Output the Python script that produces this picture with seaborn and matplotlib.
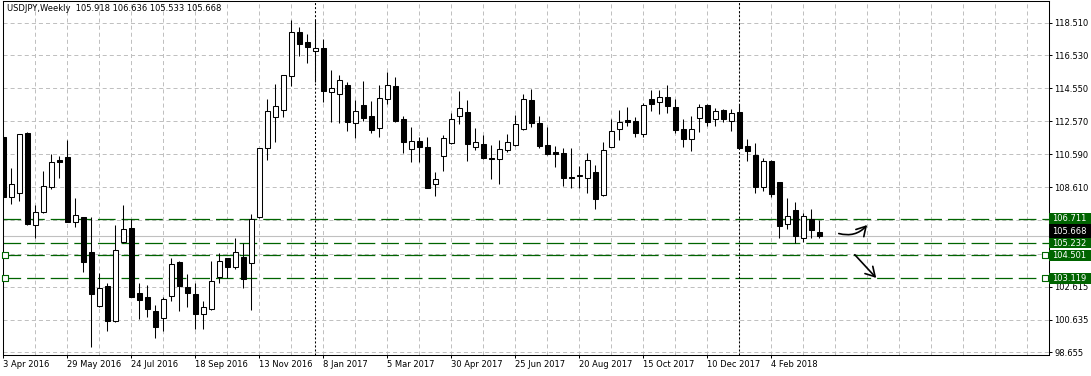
import matplotlib
matplotlib.use("Agg")
import matplotlib.pyplot as plt
import matplotlib.transforms as mtransforms
from matplotlib.patches import Rectangle
from matplotlib.ticker import MultipleLocator
import numpy as np
import pandas as pd
import seaborn as sns

sns.set_theme(style="white")
plt.rcParams['font.family'] = ['DejaVu Sans']
plt.rcParams['lines.scale_dashes'] = False

# ---------------- data (weekly USDJPY candles) ----------------
opens = [111.60, 107.99, 108.23, 111.86, 106.30, 107.09, 108.59, 110.24, 110.42, 106.52,
         106.79, 104.70, 101.47, 102.65, 100.57, 105.32, 106.12, 102.21, 101.97, 101.13,
         100.75, 102.07, 104.10, 102.59, 102.17, 100.95, 101.25, 103.21, 104.32, 103.82,
         104.38, 104.02, 106.82, 110.94, 112.80, 113.26, 115.31, 117.92, 117.32, 116.77,
         116.95, 114.31, 114.23, 114.73, 112.44, 113.54, 112.88, 112.14, 113.89, 114.67,
         112.68, 110.88, 111.38, 111.02, 108.77, 110.50, 111.24, 112.90, 113.10, 111.00,
         111.18, 110.36, 110.28, 110.86, 111.12, 112.08, 113.83, 112.46, 111.14, 110.72,
         110.64, 109.19, 109.29, 109.13, 109.49, 108.13, 111.04, 112.12, 112.64, 112.56,
         111.78, 113.91, 113.71, 114.01, 113.45, 112.08, 111.48, 112.78, 113.53, 112.68,
         113.23, 112.56, 113.10, 111.08, 110.54, 108.63, 110.18, 108.89, 106.36, 107.23,
         105.52, 106.69, 105.918]
highs = [111.78, 109.76, 111.80, 111.90, 107.53, 109.57, 110.60, 110.48, 111.44, 107.95,
         106.83, 106.79, 103.46, 102.81, 106.33, 107.53, 106.69, 102.81, 102.69, 101.49,
         101.97, 104.32, 104.16, 103.36, 102.81, 101.77, 104.16, 104.62, 104.36, 105.52,
         105.22, 106.97, 110.95, 113.90, 114.81, 115.35, 118.66, 118.22, 117.80, 118.66,
         117.52, 115.65, 115.35, 114.95, 113.85, 114.99, 113.79, 114.75, 115.51, 115.23,
         112.88, 112.20, 111.62, 111.62, 109.49, 111.74, 113.08, 114.39, 113.85, 112.14,
         111.74, 111.14, 111.44, 111.80, 112.94, 114.21, 114.51, 112.88, 112.22, 111.08,
         110.94, 110.94, 109.87, 110.64, 109.93, 111.34, 112.68, 113.24, 113.41, 112.80,
         113.65, 114.45, 114.45, 114.75, 113.91, 112.68, 112.88, 113.61, 113.61, 113.34,
         113.29, 113.29, 113.61, 111.48, 111.28, 110.34, 110.24, 108.93, 107.97, 107.69,
         107.05, 107.28, 106.636]
lows = [107.69, 107.61, 107.79, 106.33, 105.56, 107.07, 108.47, 109.13, 106.49, 106.22,
        103.52, 98.99, 101.41, 99.97, 100.51, 105.22, 101.97, 100.67, 100.79, 99.54,
        99.97, 101.77, 101.17, 101.41, 100.09, 100.09, 101.19, 102.81, 103.11, 103.68,
        102.55, 101.19, 106.72, 110.23, 111.34, 112.84, 114.71, 116.51, 116.05, 114.95,
        113.75, 112.54, 112.48, 112.00, 111.58, 112.58, 111.84, 111.64, 113.59, 112.54,
        110.64, 110.09, 110.13, 108.53, 108.09, 109.59, 111.20, 112.38, 110.20, 110.84,
        110.30, 109.09, 108.79, 110.74, 111.10, 112.06, 112.24, 110.98, 110.54, 109.83,
        108.67, 108.57, 108.57, 108.27, 107.31, 108.07, 111.00, 111.46, 112.30, 111.64,
        111.64, 113.20, 112.98, 113.08, 111.84, 111.04, 110.80, 111.94, 112.28, 112.30,
        112.50, 112.00, 110.94, 110.20, 108.27, 108.39, 108.03, 105.56, 106.08, 105.22,
        105.32, 105.57, 105.533]
closes = [108.03, 108.77, 111.78, 106.37, 107.09, 108.65, 110.10, 110.14, 106.52, 106.93,
          104.12, 102.19, 102.55, 100.57, 104.80, 106.06, 101.99, 101.83, 101.29, 100.20,
          101.85, 103.96, 102.67, 102.25, 100.99, 101.37, 102.95, 104.18, 103.82, 104.72,
          103.09, 106.68, 110.94, 113.16, 113.48, 115.33, 117.92, 117.24, 117.02, 116.95,
          114.41, 114.55, 115.03, 112.54, 113.16, 112.78, 112.06, 113.95, 114.73, 112.60,
          111.30, 111.40, 111.04, 108.57, 109.07, 111.54, 112.68, 113.35, 111.22, 111.30,
          110.36, 110.32, 110.88, 111.30, 112.38, 113.89, 112.48, 111.10, 110.62, 110.62,
          109.17, 109.15, 109.33, 110.24, 107.87, 110.84, 111.98, 112.52, 112.54, 111.84,
          113.55, 113.61, 114.01, 113.51, 112.04, 111.48, 112.12, 113.45, 112.54, 113.20,
          112.68, 113.04, 110.98, 110.80, 108.63, 110.18, 108.17, 106.28, 106.87, 105.68,
          106.85, 106.00, 105.668]

x_tick_weeks = [0, 8, 16, 24, 32, 40, 48, 56, 64, 72, 80, 88, 96]
x_tick_labels = ["3 Apr 2016", "29 May 2016", "24 Jul 2016", "18 Sep 2016", "13 Nov 2016",
                 "8 Jan 2017", "5 Mar 2017", "30 Apr 2017", "25 Jun 2017", "20 Aug 2017",
                 "15 Oct 2017", "10 Dec 2017", "4 Feb 2018"]
# grid rows; the two labels hidden behind the level boxes are left blank
y_tick_values = [118.510, 116.530, 114.550, 112.570, 110.590, 108.610, 106.600, 104.610,
                 102.615, 100.635, 98.655]
y_tick_labels = ["118.510", "116.530", "114.550", "112.570", "110.590", "108.610", "",
                 "", "102.615", "100.635", "98.655"]
level_prices = [106.711, 105.232, 104.501, 103.119]
marked_levels = [104.501, 103.119]
current_price = 105.668
separator_weeks = [39, 92]
title_text = "USDJPY,Weekly  105.918 106.636 105.533 105.668"

# ---------------- build frame ----------------
df = pd.DataFrame({"week": np.arange(len(opens)), "open": opens, "high": highs,
                   "low": lows, "close": closes})
df["bull"] = df["close"] >= df["open"]
df["body_low"] = df[["open", "close"]].min(axis=1)
df["body_h"] = (df["close"] - df["open"]).abs()

GREEN = "#006400"
GRID = "#c0c0c0"

W, H = 1091, 376
fig = plt.figure(figsize=(W / 100, H / 100), dpi=100)
fig.patch.set_facecolor("white")
ax = fig.add_axes([2.5 / W, 21 / H, 1046 / W, 354 / H])
ax.set_facecolor("white")

ax.set_xlim(-0.1, 130.65)
ax.set_ylim(98.504, 119.804)

# grid
ax.set_yticks(y_tick_values)
ax.set_yticklabels(y_tick_labels)
ax.set_xticks(x_tick_weeks)
ax.set_xticklabels(x_tick_labels)
for lab in ax.get_xticklabels():
    lab.set_ha("left")
ax.xaxis.set_minor_locator(MultipleLocator(4))
grid_style = dict(color=GRID, linestyle=(0, (2.9, 2.2)), linewidth=0.72)
ax.grid(True, which="major", axis="both", **grid_style)
ax.grid(True, which="minor", axis="x", **grid_style)
ax.set_axisbelow(True)

ax.yaxis.tick_right()
ax.tick_params(axis="y", which="major", direction="out", length=2.2, width=0.72,
               pad=1.8, labelsize=6, colors="black", right=True, left=False)
ax.tick_params(axis="x", which="major", direction="out", length=2.2, width=0.72,
               pad=1.6, labelsize=6, colors="black", bottom=True)
ax.tick_params(axis="x", which="minor", length=0)
for sp in ax.spines.values():
    sp.set_color("black")
    sp.set_linewidth(0.75)
    sp.set_visible(True)

# current price line
ax.axhline(current_price, color=GRID, linewidth=0.8, zorder=1)

# level lines
for p in level_prices:
    ax.axhline(p, color=GREEN, linewidth=0.9, linestyle=(0, (12.7, 4.3)), zorder=1.5)

# period separators
for w in separator_weeks:
    ax.axvline(w, color="black", linewidth=0.75, linestyle=(0, (1.45, 1.45)), zorder=1.6)

# candles: wicks + bodies
ax.vlines(df["week"], df["low"], df["high"], color="black", linewidth=0.75, zorder=2)
fill = np.where(df["bull"], "white", "black")
ax.bar(df["week"], np.maximum(df["body_h"], 0.005), bottom=df["body_low"], width=0.56,
       color=fill, edgecolor="black", linewidth=0.75, zorder=3)

# hollow square handles on the two lower levels
x0, x1 = ax.get_xlim()
lv = pd.DataFrame({"x": [x0 + 0.3] * len(marked_levels) + [x1 - 0.45] * len(marked_levels),
                   "y": marked_levels * 2})
sns.scatterplot(data=lv, x="x", y="y", ax=ax, marker="s", s=14, facecolor="white",
                edgecolor=GREEN, linewidth=0.8, zorder=6, clip_on=False, legend=False)
ax.set_xlabel("")
ax.set_ylabel("")

# right-hand price boxes
trans = mtransforms.blended_transform_factory(ax.transAxes, ax.transData)
box_w = 43 / 1046
px = (ax.get_ylim()[1] - ax.get_ylim()[0]) / 354.0
# current price (black), partly hidden behind the level boxes
ax.add_patch(Rectangle((1.0, current_price - 0.1), box_w, 0.9, transform=trans,
                       facecolor="black", edgecolor="none", clip_on=False, zorder=8))
ax.annotate(f"{current_price:.3f}", xy=(1.0, current_price), xycoords=trans,
            xytext=(2.6, 3.4), textcoords="offset points", ha="left", va="center",
            fontsize=6, color="white", zorder=9, annotation_clip=False)
for p in level_prices:
    ax.add_patch(Rectangle((1.0, p - 5.2 * px), box_w, 10.4 * px, transform=trans,
                           facecolor=GREEN, edgecolor="none", clip_on=False, zorder=10))
    ax.annotate(f"{p:.3f}", xy=(1.0, p), xycoords=trans, xytext=(2.6, 0),
                textcoords="offset points", ha="left", va="center", fontsize=6,
                color="white", zorder=11, annotation_clip=False)

# title
ax.text(0.0043, 0.978, title_text, transform=ax.transAxes, ha="left", va="center",
        fontsize=6, color="black", zorder=12)

# hand-drawn arrows
ax.annotate("", xy=(108.2, 106.45), xytext=(104.1, 105.86),
            arrowprops=dict(arrowstyle="->,head_length=0.55,head_width=0.32", color="black",
                            lw=1.2, connectionstyle="arc3,rad=0.35"), zorder=7)
ax.annotate("", xy=(109.35, 103.02), xytext=(106.2, 104.66),
            arrowprops=dict(arrowstyle="->,head_length=0.55,head_width=0.32", color="black",
                            lw=1.2), zorder=7)

fig.savefig("out.png", dpi=100, facecolor="white")
